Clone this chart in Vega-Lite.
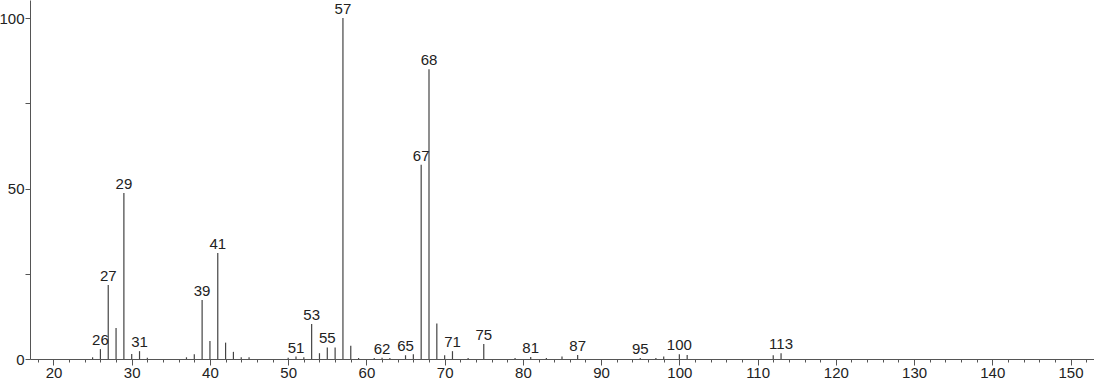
{
  "$schema": "https://vega.github.io/schema/vega-lite/v6.json",
  "width": 1064,
  "height": 359,
  "autosize": "none",
  "padding": {"left": 30, "top": 0, "right": 0, "bottom": 25},
  "background": "white",
  "config": {"view": {"stroke": null}, "font": "Liberation Sans"},
  "data": {"values": [
    {"mz": 25, "i": 0.5, "show": false},
    {"mz": 26, "i": 2.9, "show": true},
    {"mz": 27, "i": 21.7, "show": true},
    {"mz": 28, "i": 9.1, "show": false},
    {"mz": 29, "i": 48.7, "show": true},
    {"mz": 30, "i": 1.5, "show": false},
    {"mz": 31, "i": 2.3, "show": true},
    {"mz": 32, "i": 0.4, "show": false},
    {"mz": 37, "i": 0.5, "show": false},
    {"mz": 38, "i": 1.4, "show": false},
    {"mz": 39, "i": 17.3, "show": true},
    {"mz": 40, "i": 5.3, "show": false},
    {"mz": 41, "i": 31.1, "show": true},
    {"mz": 42, "i": 4.8, "show": false},
    {"mz": 43, "i": 2.1, "show": false},
    {"mz": 44, "i": 0.5, "show": false},
    {"mz": 45, "i": 0.5, "show": false},
    {"mz": 50, "i": 0.4, "show": false},
    {"mz": 51, "i": 0.7, "show": true},
    {"mz": 52, "i": 0.5, "show": false},
    {"mz": 53, "i": 10.3, "show": true},
    {"mz": 54, "i": 1.7, "show": false},
    {"mz": 55, "i": 3.4, "show": true},
    {"mz": 56, "i": 3.4, "show": false},
    {"mz": 57, "i": 100, "show": true},
    {"mz": 58, "i": 3.9, "show": false},
    {"mz": 59, "i": 0.3, "show": false},
    {"mz": 61, "i": 0.3, "show": false},
    {"mz": 62, "i": 0.4, "show": true},
    {"mz": 63, "i": 0.3, "show": false},
    {"mz": 65, "i": 1.1, "show": true},
    {"mz": 66, "i": 1.4, "show": false},
    {"mz": 67, "i": 57.0, "show": true},
    {"mz": 68, "i": 85.0, "show": true},
    {"mz": 69, "i": 10.4, "show": false},
    {"mz": 70, "i": 1.1, "show": false},
    {"mz": 71, "i": 2.3, "show": true},
    {"mz": 73, "i": 0.3, "show": false},
    {"mz": 75, "i": 4.4, "show": true},
    {"mz": 79, "i": 0.3, "show": false},
    {"mz": 81, "i": 0.6, "show": true},
    {"mz": 83, "i": 0.3, "show": false},
    {"mz": 85, "i": 0.7, "show": false},
    {"mz": 87, "i": 1.2, "show": true},
    {"mz": 95, "i": 0.3, "show": true},
    {"mz": 97, "i": 0.3, "show": false},
    {"mz": 98, "i": 0.7, "show": false},
    {"mz": 100, "i": 1.4, "show": true},
    {"mz": 101, "i": 1.2, "show": false},
    {"mz": 112, "i": 1.1, "show": false},
    {"mz": 113, "i": 1.7, "show": true}
  ]},
  "encoding": {
    "x": {
      "field": "mz", "type": "quantitative",
      "scale": {"domain": [17, 153], "nice": false, "zero": false},
      "axis": {
        "title": null, "grid": false,
        "values": [18,20,22,24,26,28,30,32,34,36,38,40,42,44,46,48,50,52,54,56,58,60,62,64,66,68,70,72,74,76,78,80,82,84,86,88,90,92,94,96,98,100,102,104,106,108,110,112,114,116,118,120,122,124,126,128,130,132,134,136,138,140,142,144,146,148,150,152],
        "labelExpr": "datum.value % 10 === 0 ? datum.label : ''",
        "labelOverlap": false,
        "labelFlush": false,
        "tickSize": {"condition": {"test": "datum.value % 10 === 0", "value": 6}, "value": 3},
        "tickColor": "#555", "domainColor": "#555", "tickWidth": 1, "domainWidth": 1,
        "labelFontSize": 15, "labelColor": "#222", "labelPadding": 0
      }
    },
    "y": {
      "field": "i", "type": "quantitative",
      "scale": {"domain": [0, 105.3], "nice": false},
      "axis": {
        "title": null, "grid": false,
        "values": [0, 25, 50, 75, 100],
        "labelExpr": "datum.value % 50 === 0 ? datum.label : ''",
        "labelOverlap": false, "labelFlush": false,
        "tickSize": 5, "tickColor": "#555", "domainColor": "#555",
        "labelFontSize": 15, "labelColor": "#222", "labelPadding": 1
      }
    }
  },
  "layer": [
    {
      "mark": {"type": "rule", "color": "#444", "strokeWidth": 1.2},
      "encoding": {"y2": {"datum": 0}}
    },
    {
      "transform": [{"filter": "datum.show"}],
      "mark": {"type": "text", "baseline": "alphabetic", "dy": -4, "fontSize": 15, "color": "#222", "font": "Liberation Sans"},
      "encoding": {"text": {"field": "mz", "type": "quantitative", "format": "d"}}
    }
  ]
}
